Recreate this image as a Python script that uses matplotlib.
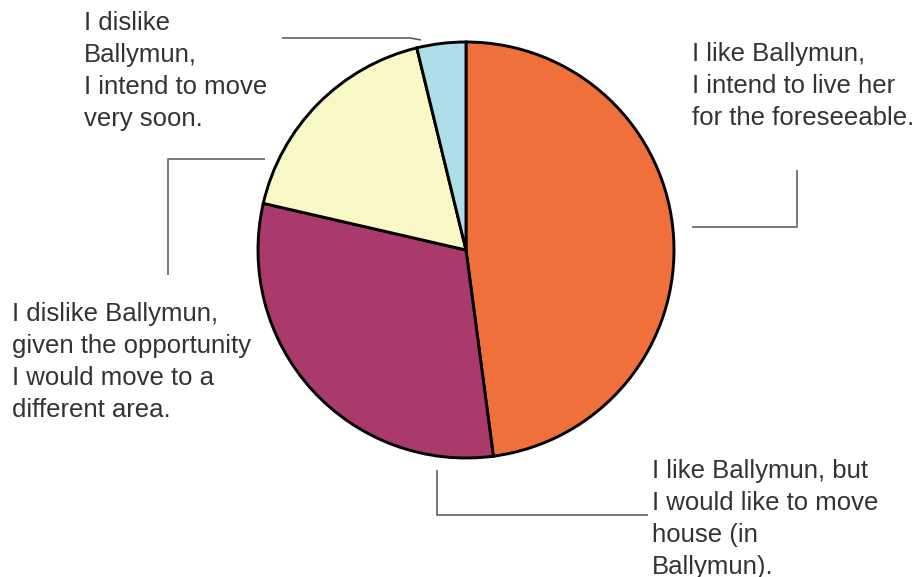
import matplotlib.pyplot as plt

# survey answers (share of respondents, %)
labels = [
    "I like Ballymun,\nI intend to live her\nfor the foreseeable.",
    "I like Ballymun, but\nI would like to move\nhouse (in\nBallymun).",
    "I dislike Ballymun,\ngiven the opportunity\nI would move to a\ndifferent area.",
    "I dislike\nBallymun,\nI intend to move\nvery soon.",
]
shares = [47.9, 30.7, 17.6, 3.8]
colors = ["#F0703C", "#AA3A6C", "#F8F7C6", "#AEDEE8"]

W, H = 915, 577
fig = plt.figure(figsize=(W / 100, H / 100), dpi=100)
ax = fig.add_axes([0, 0, 1, 1])

ax.pie(shares, colors=colors, startangle=90, counterclock=False,
       center=(466, H - 250), radius=208,
       wedgeprops={"edgecolor": "black", "linewidth": 2.1})
ax.set_xlim(0, W)
ax.set_ylim(0, H)
ax.set_aspect("equal")
ax.axis("off")


def py(y):
    return H - y


# leader lines, in pixel positions
line_kw = dict(color="#555555", lw=1.1, solid_capstyle="butt")
ax.plot([692, 797, 797], [py(227), py(227), py(170)], **line_kw)
ax.plot([437, 437, 648], [py(470), py(515), py(515)], **line_kw)
ax.plot([168, 168, 265], [py(275), py(159), py(159)], **line_kw)
ax.plot([282, 410, 421], [py(38), py(38), py(40)], **line_kw)

text_kw = dict(fontsize=18.5, color="#333333", family="Liberation Sans",
               linespacing=1.42, va="top", ha="left")
positions = [(692, 42), (652, 459), (12, 302), (84, 11)]
for lab, (x, y) in zip(labels, positions):
    ax.text(x, py(y), lab, **text_kw)

fig.savefig("out.png", dpi=100)
